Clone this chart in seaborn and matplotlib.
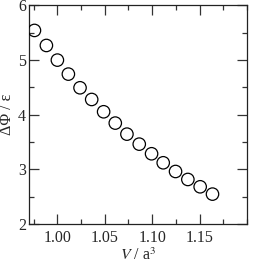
import matplotlib
matplotlib.use("Agg")
import matplotlib.pyplot as plt
from matplotlib.ticker import MultipleLocator
import seaborn as sns
import pandas as pd

volume = [0.9758, 0.9884, 1.0000, 1.0116, 1.0239, 1.0362, 1.0488, 1.0611,
          1.0734, 1.0864, 1.0994, 1.1117, 1.1247, 1.1377, 1.1507, 1.1637]
delta_phi = [5.543, 5.268, 5.000, 4.744, 4.494, 4.280, 4.055, 3.848,
             3.646, 3.463, 3.287, 3.122, 2.963, 2.817, 2.683, 2.549]
x_ticks = [1.00, 1.05, 1.10, 1.15]
x_tick_labels = ["1.00", "1.05", "1.10", "1.15"]
y_ticks = [2, 3, 4, 5, 6]

sns.set_style("ticks")
plt.rcParams['font.family'] = ['Liberation Serif', 'DejaVu Serif']
plt.rcParams['mathtext.fontset'] = 'stix'

df = pd.DataFrame({"V": volume, "dphi": delta_phi})

fig = plt.figure(figsize=(2.54, 2.72), dpi=100)
ax = fig.add_axes([0.114, 0.176, 0.858, 0.804])

sns.scatterplot(data=df, x="V", y="dphi", ax=ax, s=80, marker="o",
                facecolor="none", edgecolor="black", linewidth=0.9, zorder=3)

ax.set_xlim(0.970, 1.200)
ax.set_ylim(2, 6)
ax.set_xticks(x_ticks)
ax.set_xticklabels(x_tick_labels)
ax.set_yticks(y_ticks)
ax.xaxis.set_minor_locator(MultipleLocator(0.025))
ax.yaxis.set_minor_locator(MultipleLocator(0.5))
ax.tick_params(which="both", direction="in", top=True, right=True,
               color="#333333", width=0.9)
ax.tick_params(which="major", length=7, labelsize=11.5, pad=4)
ax.tick_params(which="minor", length=3.5)
ax.tick_params(axis="y", pad=2)
for sp in ax.spines.values():
    sp.set_linewidth(0.9)
    sp.set_color("#222222")

ax.set_xlabel(r"$V$ / a$^{3}$", fontsize=11.5, labelpad=1)
ax.set_ylabel("ΔΦ / ε", fontsize=11.5, labelpad=2)

fig.savefig("out.png", dpi=100)
